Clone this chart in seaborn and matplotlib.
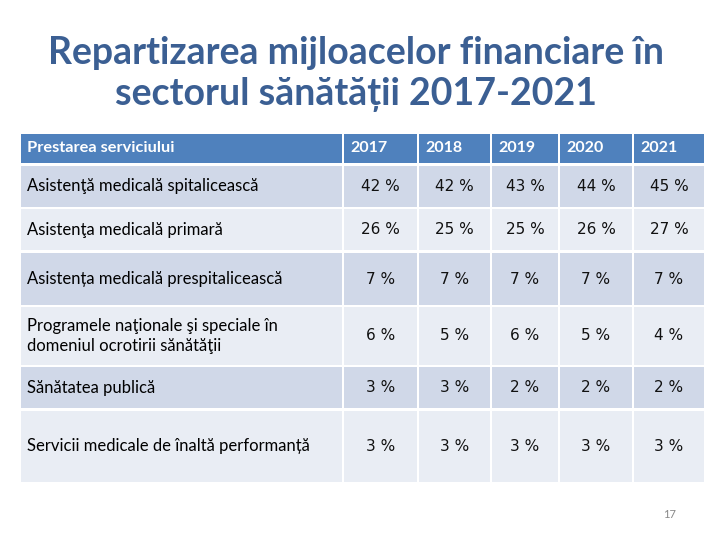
import matplotlib
matplotlib.use("Agg")
import matplotlib.pyplot as plt
import seaborn as sns

sns.set_theme(style="white")
plt.rcParams["font.family"] = ["Lato", "DejaVu Sans"]

# date tabel
years = ["2017", "2018", "2019", "2020", "2021"]
services = [
    "Asistenţă medicală spitalicească",
    "Asistenţa medicală primară",
    "Asistența medicală prespitalicească",
    "Programele naţionale şi speciale în\ndomeniul ocrotirii sănătăţii",
    "Sănătatea publică",
    "Servicii medicale de înaltă performanță",
]
spital = [42, 42, 43, 44, 45]
primara = [26, 25, 25, 26, 27]
prespital = [7, 7, 7, 7, 7]
programe = [6, 5, 6, 5, 4]
publica = [3, 3, 2, 2, 2]
performanta = [3, 3, 3, 3, 3]
values = [spital, primara, prespital, programe, publica, performanta]

# layout (pixeli)
col_edges = [21, 343, 418, 491, 559, 633, 705]
row_edges = [(134, 163), (166, 207), (209, 250), (253, 305), (307, 365), (367, 408), (411, 482)]
header_c = "#4F81BD"
odd_c = "#D0D8E8"
even_c = "#E9EDF4"

fig = plt.figure(figsize=(7.2, 5.4), dpi=100)
ax = fig.add_axes([0, 0, 1, 1])
ax.set_xlim(0, 720)
ax.set_ylim(540, 0)
ax.axis("off")

for r, (top, bot) in enumerate(row_edges):
    color = header_c if r == 0 else (odd_c if r % 2 == 1 else even_c)
    for c in range(6):
        left = col_edges[c] + (0 if c == 0 else 1)
        right = col_edges[c + 1] - 1
        ax.bar(left, bot - top, width=right - left, bottom=top, align="edge",
               color=color, linewidth=0)

# antet
hy = (row_edges[0][0] + row_edges[0][1]) / 2
ax.text(27, hy, "Prestarea serviciului", color="white", fontsize=11.8,
        fontweight="bold", ha="left", va="center")
for c, y in enumerate(years):
    ax.text(col_edges[c + 1] + 7, hy, y, color="white", fontsize=11.5,
            fontweight="bold", ha="left", va="center")

# rânduri
for r, (name, vals) in enumerate(zip(services, values)):
    top, bot = row_edges[r + 1]
    cy = (top + bot) / 2
    ax.text(27, cy, name, color="black", fontsize=12, ha="left", va="center",
            linespacing=1.3)
    for c, v in enumerate(vals):
        cx = (col_edges[c + 1] + col_edges[c + 2]) / 2
        ax.text(cx, cy, f"{v} %", color="#111111", fontsize=11, ha="center",
                va="center", family=["DejaVu Sans"])

ax.text(356, 74, "Repartizarea mijloacelor financiare în\nsectorul sănătății 2017-2021",
        color="#3B5F93", fontsize=27, fontweight="bold", ha="center", va="center",
        linespacing=1.28)
ax.text(670, 514, "17", color="#888888", fontsize=8, ha="center", va="center")

fig.savefig("out.png", dpi=100)
